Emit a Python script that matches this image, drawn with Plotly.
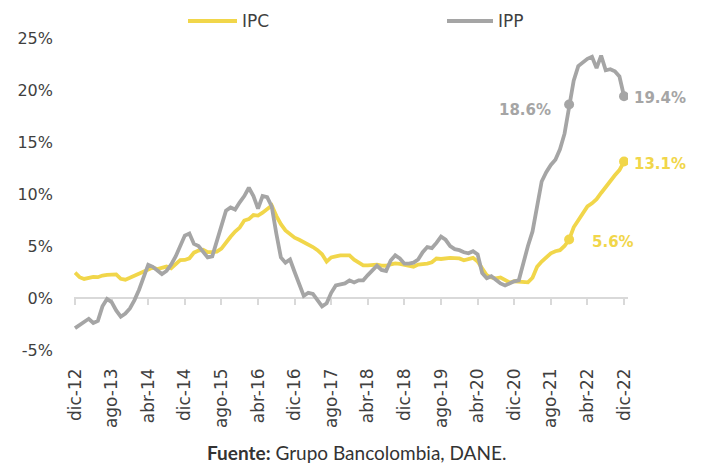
import plotly.graph_objects as go

# Monthly, dic-12 ... dic-22 (121 months), annual variation %
months = ["dic-12"] + [f"{m}-{y}" for y in range(13, 23) for m in
          ["ene", "feb", "mar", "abr", "may", "jun", "jul", "ago", "sep", "oct", "nov", "dic"]]

ipc = [2.44,
       2.00, 1.83, 1.91, 2.02, 2.00, 2.16, 2.22, 2.27, 2.27, 1.84, 1.76, 1.94,
       2.13, 2.32, 2.51, 2.72, 2.93, 2.79, 2.89, 3.02, 2.86, 3.29, 3.65, 3.66,
       3.82, 4.36, 4.56, 4.64, 4.41, 4.42, 4.46, 4.74, 5.35, 5.89, 6.39, 6.77,
       7.45, 7.59, 7.98, 7.93, 8.20, 8.60, 8.90, 7.90, 7.10, 6.50, 6.10, 5.80,
       5.60, 5.40, 5.10, 4.90, 4.60, 4.20, 3.50, 3.90, 4.00, 4.10, 4.10, 4.09,
       3.68, 3.37, 3.14, 3.13, 3.16, 3.20, 3.12, 3.10, 3.23, 3.33, 3.27, 3.18,
       3.15, 3.01, 3.21, 3.25, 3.31, 3.43, 3.79, 3.75, 3.82, 3.86, 3.84, 3.80,
       3.62, 3.72, 3.86, 3.51, 2.85, 2.19, 1.97, 1.88, 1.97, 1.75, 1.49, 1.61,
       1.60, 1.56, 1.51, 1.95, 3.00, 3.50, 3.90, 4.30, 4.50, 4.60, 5.00, 5.62,
       6.80, 7.50, 8.20, 8.80, 9.10, 9.50, 10.10, 10.70, 11.30, 11.80, 12.30, 13.12]

ipp = [-2.9,
       -2.6, -2.4, -2.0, -2.4, -2.2, -0.8, -0.1, -0.4, -1.2, -1.8, -1.5, -1.0,
       -0.2, 0.8, 1.9, 3.2, 3.0, 2.6, 2.3, 2.6, 3.2, 4.0, 4.9, 6.0,
       6.2, 5.2, 5.0, 4.4, 3.9, 4.0, 5.5, 7.2, 8.4, 8.7, 8.5, 9.2,
       9.8, 10.6, 9.8, 8.6, 9.8, 9.7, 8.8, 6.2, 3.9, 3.4, 3.7, 2.5,
       1.4, 0.2, 0.5, 0.4, -0.2, -0.8, -0.5, 0.5, 1.2, 1.3, 1.4, 1.7,
       1.5, 1.7, 1.7, 2.2, 2.7, 3.1, 2.7, 2.6, 3.6, 4.1, 3.8, 3.3,
       3.3, 3.4, 3.7, 4.4, 4.9, 4.8, 5.3, 5.9, 5.6, 5.0, 4.7, 4.6,
       4.4, 4.3, 4.5, 4.2, 2.4, 1.9, 2.1, 1.7, 1.4, 1.2, 1.4, 1.6,
       1.7, 3.5, 5.0, 6.4, 8.8, 11.2, 12.1, 12.8, 13.3, 14.3, 15.8, 18.6,
       20.9, 22.3, 22.7, 23.0, 23.2, 22.1, 23.3, 21.9, 22.0, 21.8, 21.3, 19.4]

tick_labels = ["dic-12", "ago-13", "abr-14", "dic-14", "ago-15", "abr-16", "dic-16", "ago-17",
               "abr-18", "dic-18", "ago-19", "abr-20", "dic-20", "ago-21", "abr-22", "dic-22"]
y_ticks = [-5, 0, 5, 10, 15, 20, 25]
y_tick_text = ["-5%", "0%", "5%", "10%", "15%", "20%", "25%"]
highlight = ["dic-21", "dic-22"]

YMIN, YMAX = -5, 25
C_IPC = "#F1D64A"
C_IPP = "#A5A5A5"
TXT = "#3F3F3F"

xs = list(range(len(months)))
tickvals = [months.index(t) for t in tick_labels]
hi_idx = [months.index(h) for h in highlight]

fig = go.Figure()
fig.add_trace(go.Scatter(x=xs, y=ipc, mode="lines", name="IPC",
                         line=dict(color=C_IPC, width=3.8), showlegend=False))
fig.add_trace(go.Scatter(x=xs, y=ipp, mode="lines", name="IPP", xaxis="x2",
                         line=dict(color=C_IPP, width=3.8), showlegend=False))
fig.add_trace(go.Scatter(x=hi_idx, y=[ipc[i] for i in hi_idx], mode="markers",
                         marker=dict(color=C_IPC, size=10), showlegend=False))
fig.add_trace(go.Scatter(x=hi_idx, y=[ipp[i] for i in hi_idx], mode="markers", xaxis="x2",
                         marker=dict(color=C_IPP, size=10), showlegend=False))

lab_font = dict(family="DejaVu Sans", size=15, color=C_IPP)
ann = []
# IPP labels
ann.append(dict(x=hi_idx[0], y=ipp[hi_idx[0]], text=f"<b>{ipp[hi_idx[0]]:.1f}%</b>",
                xanchor="right", yanchor="middle", xshift=-16, yshift=-5, showarrow=False,
                font=dict(lab_font)))
ann.append(dict(x=hi_idx[1], y=ipp[hi_idx[1]], text=f"<b>{ipp[hi_idx[1]]:.1f}%</b>",
                xanchor="left", yanchor="middle", xshift=8, yshift=-2, showarrow=False,
                font=dict(lab_font)))
# IPC labels
ann.append(dict(x=hi_idx[0], y=ipc[hi_idx[0]], text=f"<b>{ipc[hi_idx[0]]:.1f}%</b>",
                xanchor="left", yanchor="middle", xshift=21, yshift=-2, showarrow=False,
                font=dict(lab_font, color=C_IPC)))
ann.append(dict(x=hi_idx[1], y=ipc[hi_idx[1]], text=f"<b>{ipc[hi_idx[1]]:.1f}%</b>",
                xanchor="left", yanchor="middle", xshift=8, yshift=-2, showarrow=False,
                font=dict(lab_font, color=C_IPC)))
# Source
ann.append(dict(xref="paper", yref="paper", x=0.51, y=0, yshift=-102, xanchor="center",
                yanchor="middle", showarrow=False,
                text="<b>Fuente:</b> Grupo Bancolombia, DANE.",
                font=dict(family="Lato", size=19, color="#333333")))

# Custom legend (line swatch + label)
L, W, T, H = 74, 554, 38, 312
def px(xp):
    return (xp - L) / W
def py(yp):
    return (T + H - yp) / H
shapes = []
for name, col, x0, x1, tx in [("IPC", C_IPC, 188, 237, 240), ("IPP", C_IPP, 447, 493, 496)]:
    shapes.append(dict(type="line", xref="paper", yref="paper", x0=px(x0), x1=px(x1),
                       y0=py(21), y1=py(21), line=dict(color=col, width=4)))
    ann.append(dict(xref="paper", yref="paper", x=px(tx), y=py(21), xanchor="left",
                    yanchor="middle", showarrow=False, text=name,
                    font=dict(family="DejaVu Sans", size=17, color=TXT)))

xr = [-0.22, 120.87]
fig.update_layout(
    width=702, height=463,
    margin=dict(l=L, r=702 - L - W, t=T, b=463 - T - H),
    paper_bgcolor="white", plot_bgcolor="white",
    showlegend=False,
    xaxis=dict(range=xr, tickvals=tickvals, ticktext=tick_labels, tickangle=-90,
               showline=False, showgrid=False, zeroline=False, ticks="",
               ticklabelstandoff=14,
               tickfont=dict(family="DejaVu Sans", size=17, color=TXT)),
    xaxis2=dict(range=xr, overlaying="x", anchor="free",
                position=(0 - YMIN) / (YMAX - YMIN),
                tickvals=tickvals, showticklabels=False, showline=True,
                linecolor="#D9D9D9", linewidth=1.5, ticks="outside", ticklen=6,
                tickcolor="#D9D9D9", tickwidth=1.5, showgrid=False, zeroline=False,
                layer="below traces"),
    yaxis=dict(range=[YMIN, YMAX], tickvals=y_ticks, ticktext=y_tick_text, showgrid=False,
               zeroline=False, showline=False, ticklabelstandoff=20,
               tickfont=dict(family="DejaVu Sans", size=16, color=TXT)),
    annotations=ann, shapes=shapes,
)

fig.write_html("out.html")
